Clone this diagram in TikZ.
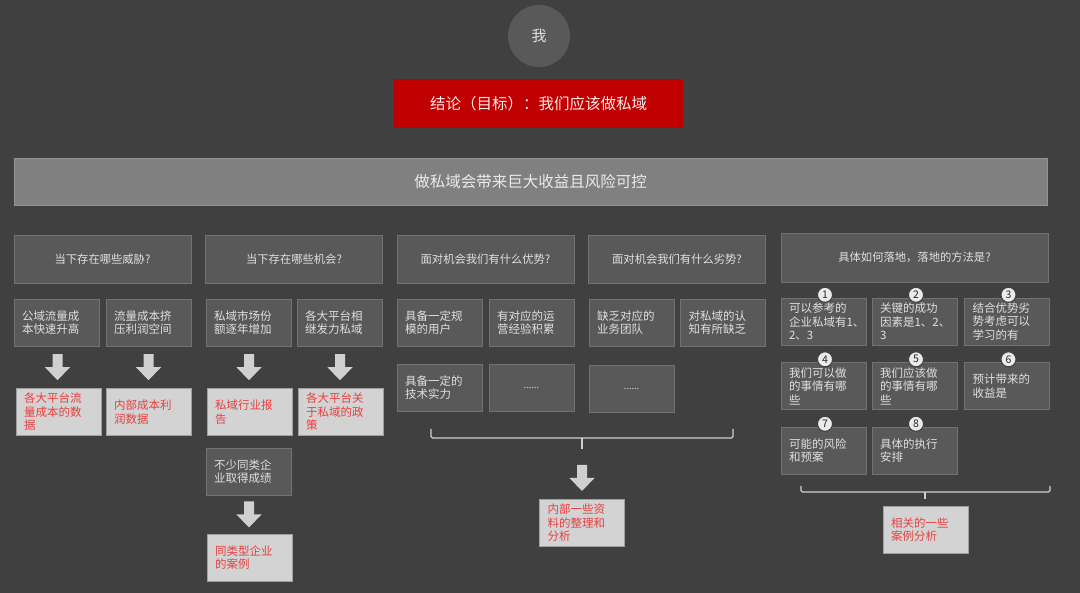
\documentclass[tikz,border=0pt]{standalone}
\usepackage{fontspec}
\setmainfont{Noto Sans CJK SC}
\usetikzlibrary{calc}
\definecolor{bgdark}{HTML}{404040}
\definecolor{boxgray}{HTML}{595959}
\definecolor{bannergray}{HTML}{808080}
\definecolor{txtlight}{HTML}{E0E0E0}
\definecolor{goalred}{HTML}{C00000}
\definecolor{notered}{HTML}{E8403F}
\definecolor{notebox}{HTML}{D3D3D3}
\definecolor{arrowgray}{HTML}{D0D0D0}

\begin{document}
\begin{tikzpicture}[x=1pt, y=-1pt,
    question/.style={fill=boxgray, draw=boxgray!85!white, line width=0.4pt, minimum width=177pt, minimum height=48pt, text=txtlight, font=\fontsize{11.3}{13}\selectfont},
    item/.style={fill=boxgray, draw=boxgray!85!white, line width=0.4pt, text width=69pt, inner xsep=8pt, inner ysep=2pt, minimum height=47pt, align=left, text=txtlight, font=\fontsize{11.5}{13.5}\selectfont},
    source/.style={item, fill=notebox, draw=gray!75!white, text=notered},
    num/.style={circle, fill=white!92!black, draw=bgdark, line width=1pt, inner sep=0pt, minimum size=15pt, text=black!85, font=\fontsize{10.5}{10.5}\selectfont},
    brace/.style={draw=arrowgray, line width=1.2pt, rounded corners=1.5pt},
    darrow/.pic={\fill[arrowgray] (-5,-13) -- (5,-13) -- (5,0) -- (12.5,0) -- (0,13) -- (-12.5,0) -- (-5,0) -- cycle;}]
    % Background
    \fill[bgdark] (0,0) rectangle (1080,593);

    % Top: me, goal and banner
    \node[circle, fill=boxgray, minimum size=62pt, inner sep=0pt, text=txtlight, font=\fontsize{15}{15}\selectfont] (me) at (539,36) {我};
    \node[fill=goalred, minimum width=289pt, minimum height=49pt, text=white!92!red, font=\fontsize{15.5}{16}\selectfont] (goal) at (538.5,103.5) {结论（目标）：我们应该做私域};
    \node[fill=bannergray, draw=bannergray!85!white, minimum width=1033pt, minimum height=47pt, text=white!92!black, font=\fontsize{15.5}{16}\selectfont] (banner) at (530.5,181.5) {做私域会带来巨大收益且风险可控};

    % Questions
    \node[question] (q1) at (102.5,259) {当下存在哪些威胁?};
    \node[question] (q2) at (294,259) {当下存在哪些机会?};
    \node[question] (q3) at (485.5,259) {面对机会我们有什么优势?};
    \node[question] (q4) at (677,259) {面对机会我们有什么劣势?};
    \node[question, minimum width=267pt, minimum height=49pt] (q5) at (914.5,257.5) {具体如何落地，落地的方法是?};

    % Threats
    \node[item] (t1) at (56.5,322.5) {公域流量成\\本快速升高};
    \node[item] (t2) at (148.5,322.5) {流量成本挤\\压利润空间};
    \node[source] (rt1) at (58.5,412) {各大平台流\\量成本的数\\据};
    \node[source] (rt2) at (148.5,412) {内部成本利\\润数据};
    \pic at ($(t1.south)!0.5!(rt1.north)$) {darrow};
    \pic at ($(t2.south)!0.5!(rt2.north)$) {darrow};

    % Chances
    \node[item] (o1) at (248.5,322.5) {私域市场份\\额逐年增加};
    \node[item] (o2) at (339.5,322.5) {各大平台相\\继发力私域};
    \node[source] (ro1) at (249.5,412) {私域行业报\\告};
    \node[source] (ro2) at (340.5,412) {各大平台关\\于私域的政\\策};
    \node[item] (o3) at (248.5,471.5) {不少同类企\\业取得成绩};
    \node[source] (ro3) at (249.5,557.5) {同类型企业\\的案例};
    \pic at ($(o1.south)!0.5!(ro1.north)$) {darrow};
    \pic at ($(o2.south)!0.5!(ro2.north)$) {darrow};
    \pic at ($(o3.south)!0.5!(ro3.north)$) {darrow};

    % Strengths and weaknesses
    \node[item] (s1) at (439.5,322.5) {具备一定规\\模的用户};
    \node[item] (s2) at (531.5,322.5) {有对应的运\\营经验积累};
    \node[item] (s3) at (439.5,387.5) {具备一定的\\技术实力};
    \node[item, align=center, font=\fontsize{9}{9}\selectfont] (s4) at (531.5,387.5) {......};
    \node[item] (w1) at (631.5,322.5) {缺乏对应的\\业务团队};
    \node[item] (w2) at (723,322.5) {对私域的认\\知有所缺乏};
    \node[item, align=center, font=\fontsize{9}{9}\selectfont] (w3) at (631.5,388.5) {......};
    \draw[brace] (431,429) -- (431,438) -- (733,438) -- (733,429);
    \draw[brace] (582,438) -- (582,449);
    \node[source] (rsw) at (582,523) {内部一些资\\料的整理和\\分析};
    \pic at (582,478) {darrow};

    % Steps
    \node[item] (m1) at (823.5,321.5) {可以参考的\\企业私域有1、\\2、3};
    \node[item] (m2) at (914.5,321.5) {关键的成功\\因素是1、2、\\3};
    \node[item] (m3) at (1007,321.5) {结合优势劣\\势考虑可以\\学习的有};
    \node[item] (m4) at (823.5,386) {我们可以做\\的事情有哪\\些};
    \node[item] (m5) at (914.5,386) {我们应该做\\的事情有哪\\些};
    \node[item] (m6) at (1007,386) {预计带来的\\收益是};
    \node[item] (m7) at (823.5,450.5) {可能的风险\\和预案};
    \node[item] (m8) at (914.5,450.5) {具体的执行\\安排};
    \foreach \i in {1,...,8}
        \node[num] at ($(m\i.north)+(1.5,-3)$) {\i};
    \draw[brace] (801,486) -- (801,492) -- (1050,492) -- (1050,486);
    \draw[brace] (925,492) -- (925,499);
    \node[source] (rm) at (925.5,529.5) {相关的一些\\案例分析};
\end{tikzpicture}
\end{document}
